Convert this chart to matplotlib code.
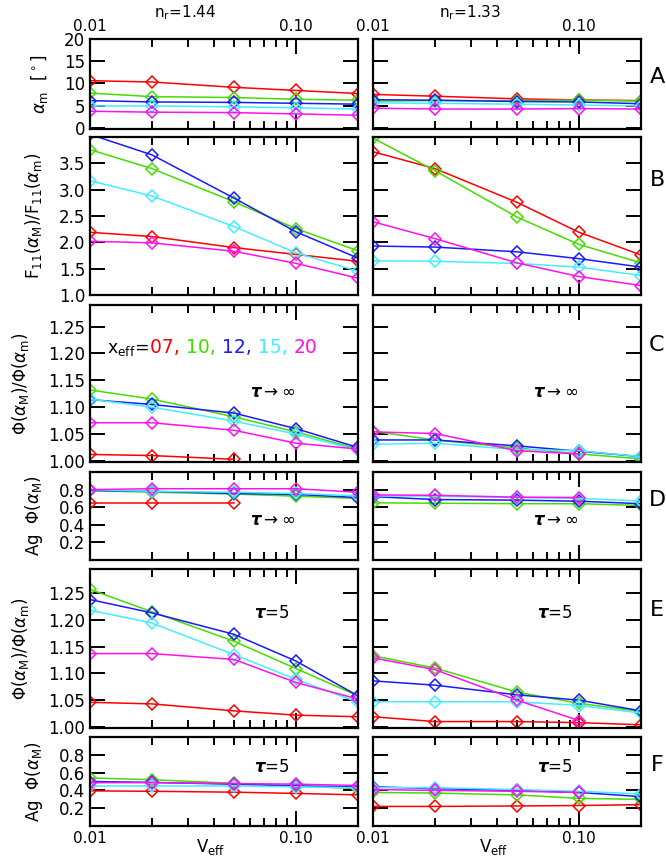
import numpy as np
import matplotlib.pyplot as plt
from matplotlib.ticker import NullFormatter
from matplotlib.offsetbox import TextArea, HPacker, AnchoredOffsetbox

nan = np.nan

# abscissa and series
v_eff = [0.01, 0.02, 0.05, 0.10, 0.20]
x_eff = ['07', '10', '12', '15', '20']
colours = ['#ff0000', '#44dd00', '#1a1aff', '#44eeff', '#ff11ee']

# one row per x_eff (07, 10, 12, 15, 20), one value per V_eff
# A : alpha_m [deg]
am_144 = [[10.6, 10.3, 9.1, 8.4, 7.7],
          [7.8, 7.0, 6.8, 6.4, 6.2],
          [6.1, 5.8, 5.7, 5.5, 5.3],
          [4.9, 4.9, 4.7, 4.5, 4.2],
          [3.7, 3.5, 3.4, 3.1, 2.8]]
am_133 = [[7.5, 7.1, 6.5, 6.25, 6.1],
          [6.0, 6.1, 6.1, 6.2, 6.0],
          [6.3, 6.2, 5.9, 5.8, 5.4],
          [5.6, 5.5, 5.3, 5.1, 4.9],
          [4.4, 4.2, 4.2, 4.3, 4.2]]

# B : F11(alpha_M)/F11(alpha_m)
f11_144 = [[2.19, 2.11, 1.90, 1.77, 1.64],
           [3.76, 3.40, 2.77, 2.26, 1.84],
           [4.05, 3.66, 2.84, 2.20, 1.70],
           [3.17, 2.88, 2.30, 1.80, 1.45],
           [2.02, 1.99, 1.83, 1.60, 1.32]]
f11_133 = [[3.72, 3.40, 2.76, 2.19, 1.76],
           [3.98, 3.36, 2.48, 1.96, 1.61],
           [1.93, 1.91, 1.82, 1.69, 1.53],
           [1.65, 1.64, 1.60, 1.53, 1.37],
           [2.39, 2.07, 1.61, 1.35, 1.18]]

# C : Phi(alpha_M)/Phi(alpha_m), tau -> inf
phi_inf_144 = [[1.012, 1.010, 1.003, nan, nan],
               [1.132, 1.115, 1.082, 1.054, 1.022],
               [1.114, 1.105, 1.089, 1.060, 1.025],
               [1.115, 1.100, 1.074, 1.050, 1.020],
               [1.071, 1.071, 1.057, 1.033, 1.022]]
phi_inf_133 = [[nan, nan, nan, nan, nan],
               [1.055, 1.039, 1.024, 1.013, 1.004],
               [1.039, 1.039, 1.028, 1.018, 1.008],
               [1.031, 1.033, 1.021, 1.019, 1.008],
               [1.054, 1.051, 1.019, 1.013, nan]]

# D : Ag Phi(alpha_M), tau -> inf
ag_inf_144 = [[0.65, 0.65, 0.65, nan, nan],
              [0.79, 0.77, 0.75, 0.725, 0.70],
              [0.79, 0.78, 0.756, 0.745, 0.71],
              [0.80, 0.78, 0.77, 0.756, 0.73],
              [0.80, 0.81, 0.81, 0.81, 0.77]]
ag_inf_133 = [[nan, nan, nan, nan, nan],
              [0.65, 0.645, 0.64, 0.64, 0.62],
              [0.72, 0.687, 0.68, 0.668, 0.64],
              [0.73, 0.725, 0.71, 0.70, 0.67],
              [0.74, 0.735, 0.714, 0.71, nan]]

# E : Phi(alpha_M)/Phi(alpha_m), tau = 5
phi_5_144 = [[1.046, 1.043, 1.030, 1.022, 1.019],
             [1.257, 1.215, 1.160, 1.109, 1.058],
             [1.238, 1.213, 1.173, 1.123, 1.058],
             [1.218, 1.194, 1.135, 1.089, 1.046],
             [1.137, 1.137, 1.126, 1.083, 1.052]]
phi_5_133 = [[1.019, 1.010, 1.010, 1.008, 1.004],
             [1.133, 1.110, 1.065, 1.044, 1.029],
             [1.086, 1.078, 1.060, 1.050, 1.030],
             [1.047, 1.047, 1.047, 1.040, 1.026],
             [1.129, 1.107, 1.050, 1.012, nan]]

# F : Ag Phi(alpha_M), tau = 5
ag_5_144 = [[0.395, 0.39, 0.38, 0.366, 0.35],
            [0.54, 0.52, 0.48, 0.45, 0.42],
            [0.50, 0.49, 0.47, 0.45, 0.44],
            [0.45, 0.45, 0.45, 0.44, 0.43],
            [0.487, 0.487, 0.477, 0.47, 0.455]]
ag_5_133 = [[0.22, 0.22, 0.225, 0.23, 0.24],
            [0.377, 0.37, 0.35, 0.31, 0.30],
            [0.44, 0.42, 0.40, 0.377, 0.33],
            [0.43, 0.43, 0.41, 0.39, 0.36],
            [0.41, 0.40, 0.39, 0.377, nan]]

panels = [(am_144, am_133), (f11_144, f11_133), (phi_inf_144, phi_inf_133),
          (ag_inf_144, ag_inf_133), (phi_5_144, phi_5_133), (ag_5_144, ag_5_133)]

ylabels = [r'$\alpha_{\rm m}$  [$^\circ$]',
           r'F$_{11}$($\alpha_{\rm M}$)/F$_{11}$($\alpha_{\rm m}$)',
           r'$\Phi$($\alpha_{\rm M}$)/$\Phi$($\alpha_{\rm m}$)',
           r'Ag  $\Phi$($\alpha_{\rm M}$)',
           r'$\Phi$($\alpha_{\rm M}$)/$\Phi$($\alpha_{\rm m}$)',
           r'Ag  $\Phi$($\alpha_{\rm M}$)']
ylabel_x = [-0.19, -0.21, -0.26, -0.21, -0.26, -0.21]
yticks = [[0, 5, 10, 15, 20],
          [1.0, 1.5, 2.0, 2.5, 3.0, 3.5],
          [1.00, 1.05, 1.10, 1.15, 1.20, 1.25],
          [0.2, 0.4, 0.6, 0.8],
          [1.00, 1.05, 1.10, 1.15, 1.20, 1.25],
          [0.2, 0.4, 0.6, 0.8]]
yfmt = ['%d', '%.1f', '%.2f', '%.1f', '%.2f', '%.1f']
ylims = [(-0.3, 20.0), (1.0, 4.0), (0.998, 1.29), (0.0, 1.0), (0.998, 1.295), (0.0, 1.0)]
letters = ['A', 'B', 'C', 'D', 'E', 'F']
letter_y = [77, 180, 345, 500, 610, 765]

# figure layout in pixels
W, H = 666., 861.
col_x = [90, 373]
col_w = 268
row_y = [(39, 129), (137, 295), (305, 462), (472, 560), (569, 728), (737, 826)]

fig = plt.figure(figsize=(6.66, 8.61), dpi=100)

axes = []
for r in range(6):
    ligne = []
    for c in range(2):
        y0, y1 = row_y[r]
        ax = fig.add_axes([col_x[c] / W, 1 - y1 / H, col_w / W, (y1 - y0) / H])
        data = panels[r][c]
        for k in range(5):
            ax.plot(v_eff, data[k], '-', color=colours[k], lw=1.1,
                    marker='D', ms=6.5, mfc='none', mec=colours[k], mew=1.1)
        ax.set_xscale('log')
        ax.set_xlim(0.01, 0.2)
        ax.set_ylim(*ylims[r])
        ax.set_xticks([0.01, 0.1])
        ax.set_xticklabels(['0.01', '0.10'])
        ax.set_xticks([0.02, 0.03, 0.04, 0.05, 0.06, 0.07, 0.08, 0.09], minor=True)
        ax.xaxis.set_minor_formatter(NullFormatter())
        ax.set_yticks(yticks[r])
        ax.set_yticklabels([yfmt[r] % v for v in yticks[r]])
        ax.tick_params(which='both', direction='in', top=True, right=True, width=1.4)
        ax.tick_params(which='major', length=11)
        ax.tick_params(which='minor', length=6)
        ax.tick_params(axis='y', labelsize=12)
        ax.tick_params(axis='x', labelsize=11)
        ax.tick_params(labeltop=(r == 0), labelbottom=(r == 5), labelleft=(c == 0))
        for s in ax.spines.values():
            s.set_linewidth(1.6)
        if c == 0:
            ax.set_ylabel(ylabels[r], fontsize=12, va='center')
            ax.yaxis.set_label_coords(ylabel_x[r], 0.5)
        if r == 5:
            ax.set_xlabel(r'V$_{\rm eff}$', fontsize=12, va='center')
            ax.xaxis.set_label_coords(0.45, -0.235)
        ligne.append(ax)
    axes.append(ligne)
    fig.text(657 / W, 1 - letter_y[r] / H, letters[r], fontsize=16, ha='center', va='center')

# titles
fig.text(185 / W, 1 - 13 / H, r'n$_{\rm r}$=1.44', fontsize=11, ha='center', va='center')
fig.text(470 / W, 1 - 13 / H, r'n$_{\rm r}$=1.33', fontsize=11, ha='center', va='center')

# optical depth notes
tau_inf = r'$\boldsymbol{\tau}\rightarrow\infty$'
tau_5 = r'$\boldsymbol{\tau}$=5'
for c in range(2):
    axes[2][c].text(0.68, 0.446, tau_inf, transform=axes[2][c].transAxes, fontsize=12, ha='center', va='center')
    axes[3][c].text(0.68, 0.455, tau_inf, transform=axes[3][c].transAxes, fontsize=12, ha='center', va='center')
    axes[4][c].text(0.68, 0.723, tau_5, transform=axes[4][c].transAxes, fontsize=12, ha='center', va='center')
    axes[5][c].text(0.68, 0.663, tau_5, transform=axes[5][c].transAxes, fontsize=12, ha='center', va='center')

# x_eff legend in colour
morceaux = [TextArea(r'x$_{\rm eff}$= ', textprops=dict(fontsize=12.5, color='k'))]
for k, (lab, col) in enumerate(zip(x_eff, colours)):
    txt = lab + (', ' if k < len(x_eff) - 1 else '')
    morceaux.append(TextArea(txt, textprops=dict(fontsize=13.5, color=col)))
boite = HPacker(children=morceaux, align='baseline', pad=0, sep=0)
anc = AnchoredOffsetbox(loc='center left', child=boite, pad=0, borderpad=0, frameon=False,
                        bbox_to_anchor=(0.063, 0.726), bbox_transform=axes[2][0].transAxes)
axes[2][0].add_artist(anc)

fig.savefig('out.png', dpi=100)
